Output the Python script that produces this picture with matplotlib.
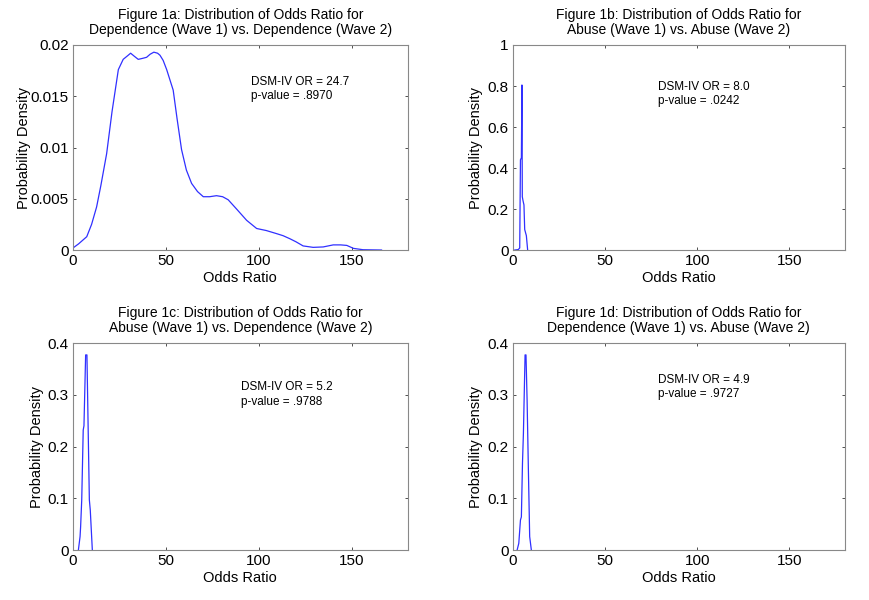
import numpy as np
import matplotlib
matplotlib.use('Agg')
import matplotlib.pyplot as plt

plt.rcParams['font.family'] = ['Liberation Sans', 'DejaVu Sans']

# curves (odds ratio, density)
a_x = [0, 3, 7.4, 10, 12.7, 15, 18.1, 21, 24.4, 27, 29.7, 31, 33, 35.1, 37.5,
       39.6, 41.5, 43.5, 45.5, 46.8, 48.5, 50.4, 53.9, 56, 58.4, 61, 63.8, 67,
       70.1, 73.5, 77.2, 80.5, 83.5, 88, 93.4, 98.8, 104, 109.5, 113, 116.7,
       120, 123.8, 129.2, 134.6, 140, 144, 147.3, 150.9, 156, 166]
a_y = [0.0002, 0.0006, 0.0013, 0.0025, 0.0042, 0.0063, 0.0094, 0.0135, 0.0176,
       0.0186, 0.019, 0.0192, 0.0189, 0.0186, 0.0187, 0.0188, 0.0191, 0.0193,
       0.0192, 0.019, 0.0185, 0.0176, 0.0156, 0.0128, 0.0098, 0.0078, 0.0065,
       0.0057, 0.0052, 0.0052, 0.0053, 0.0052, 0.0049, 0.004, 0.0029, 0.0021,
       0.0019, 0.0016, 0.0014, 0.0011, 0.0008, 0.0004, 0.00026, 0.0003, 0.0005,
       0.0005, 0.00045, 0.00016, 0.00003, 0.0]

b_x = [1.1, 3.0, 3.8, 4.2, 4.7, 5.0, 5.2, 5.6, 6.1, 6.5, 7.4, 8.1]
b_y = [0.0, 0.002, 0.01, 0.44, 0.45, 0.805, 0.26, 0.24, 0.22, 0.1, 0.07, 0.0]

c_x = [2.9, 3.8, 4.1, 4.7, 5.5, 5.9, 6.8, 7.5, 8.2, 8.8, 9.3, 10.4]
c_y = [0.0, 0.026, 0.045, 0.097, 0.232, 0.24, 0.377, 0.377, 0.225, 0.097, 0.077, 0.0]

d_x = [2.4, 3.3, 4.2, 4.7, 5.3, 5.8, 6.2, 6.7, 7.2, 7.8, 8.5, 9.2, 10.1]
d_y = [0.0, 0.013, 0.058, 0.064, 0.168, 0.225, 0.293, 0.377, 0.377, 0.29, 0.155, 0.026, 0.0]

titles = ['Figure 1a: Distribution of Odds Ratio for\nDependence (Wave 1) vs. Dependence (Wave 2)',
          'Figure 1b: Distribution of Odds Ratio for\nAbuse (Wave 1) vs. Abuse (Wave 2)',
          'Figure 1c: Distribution of Odds Ratio for\nAbuse (Wave 1) vs. Dependence (Wave 2)',
          'Figure 1d: Distribution of Odds Ratio for\nDependence (Wave 1) vs. Abuse (Wave 2)']
notes = ['DSM-IV OR = 24.7\np-value = .8970',
         'DSM-IV OR = 8.0\np-value = .0242',
         'DSM-IV OR = 5.2\np-value = .9788',
         'DSM-IV OR = 4.9\np-value = .9727']
ylims = [0.02, 1, 0.4, 0.4]
yticks = [[0, 0.005, 0.01, 0.015, 0.02], [0, 0.2, 0.4, 0.6, 0.8, 1],
          [0, 0.1, 0.2, 0.3, 0.4], [0, 0.1, 0.2, 0.3, 0.4]]
yticklabels = [['0', '0.005', '0.01', '0.015', '0.02'],
               ['0', '0.2', '0.4', '0.6', '0.8', '1'],
               ['0', '0.1', '0.2', '0.3', '0.4'],
               ['0', '0.1', '0.2', '0.3', '0.4']]
xs = [a_x, b_x, c_x, d_x]
ys = [a_y, b_y, c_y, d_y]

# axes rectangles (figure fractions) and note positions (axes fractions)
rects = [[0.084, 0.5833, 0.385, 0.3417],
         [0.590, 0.5833, 0.382, 0.3417],
         [0.084, 0.0833, 0.385, 0.345],
         [0.590, 0.0833, 0.382, 0.345]]
note_pos = [(0.533, 0.85), (0.437, 0.825), (0.502, 0.815), (0.437, 0.85)]
ylabel_pad = [0, 3, 3, 3]

fig = plt.figure(figsize=(8.69, 6.0), dpi=100)
for i in range(4):
    ax = fig.add_axes(rects[i])
    ax.plot(xs[i], ys[i], color='#3030ff', lw=0.9)
    ax.set_xlim(0, 180)
    ax.set_ylim(0, ylims[i])
    ax.set_xticks([0, 50, 100, 150])
    ax.set_yticks(yticks[i])
    ax.set_yticklabels(yticklabels[i])
    ax.tick_params(direction='in', length=2.5, width=0.6, colors='#333333',
                   labelcolor='black', labelsize=11, top=True, right=True, pad=3)
    for s in ax.spines.values():
        s.set_color('#888888')
        s.set_linewidth(0.8)
    ax.set_title(titles[i], fontsize=10, pad=8, linespacing=1.05)
    ax.set_xlabel('Odds Ratio', fontsize=10.5, labelpad=2)
    ax.set_ylabel('Probability Density', fontsize=10.5, labelpad=ylabel_pad[i])
    ax.text(note_pos[i][0], note_pos[i][1], notes[i], transform=ax.transAxes,
            fontsize=8.5, va='top', ha='left', linespacing=1.25)

plt.savefig('out.png', dpi=100)
